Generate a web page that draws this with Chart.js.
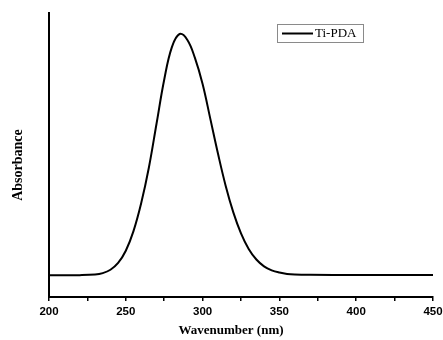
<!DOCTYPE html>
<html>
<head>
<meta charset="utf-8">
<script src="https://cdn.jsdelivr.net/npm/chart.js@4/dist/chart.umd.min.js"></script>
<style>
  body { margin: 0; background: #fff; }
  canvas { display: block; }
</style>
</head>
<body>
<canvas id="grafica" width="443" height="340"></canvas>
<script>
const wavelengths = [200, 220, 230, 235, 240, 245, 250, 255, 260, 265, 270, 275, 280, 285, 290, 295, 300, 305, 310, 315, 320, 325, 330, 335, 340, 345, 350, 355, 360, 370, 400, 450];
const absorbance = [0.077, 0.077, 0.079, 0.084, 0.096, 0.120, 0.163, 0.232, 0.330, 0.455, 0.610, 0.765, 0.880, 0.926, 0.906, 0.842, 0.750, 0.628, 0.505, 0.392, 0.298, 0.224, 0.169, 0.132, 0.108, 0.094, 0.086, 0.081, 0.079, 0.078, 0.0775, 0.0775];
const xTicks = [200, 250, 300, 350, 400, 450];
const serieNombre = "Ti-PDA";

const puntos = wavelengths.map((x, i) => ({ x: x, y: absorbance[i] }));

const textos = {
    id: "textos",
    afterDraw(chart) {
        const { ctx, chartArea } = chart;
        ctx.save();
        ctx.fillStyle = "#000";

        // titulo eje y
        ctx.font = "bold 14px 'Liberation Serif'";
        ctx.textAlign = "center";
        ctx.textBaseline = "middle";
        ctx.translate(18, 165);
        ctx.rotate(-Math.PI / 2);
        ctx.fillText("Absorbance", 0, 0);
        ctx.setTransform(1, 0, 0, 1, 0, 0);

        // titulo eje x
        ctx.font = "bold 13px 'Liberation Serif'";
        ctx.fillText("Wavenumber (nm)", 231, 331);

        // leyenda
        const lx = chartArea.right - 156;
        const ly = chartArea.top + 11;
        ctx.strokeStyle = "#8a8a8a";
        ctx.lineWidth = 1;
        ctx.strokeRect(lx + 0.5, ly + 0.5, 86, 18);
        ctx.strokeStyle = "#000";
        ctx.lineWidth = 2;
        ctx.beginPath();
        ctx.moveTo(lx + 5, ly + 9.5);
        ctx.lineTo(lx + 36, ly + 9.5);
        ctx.stroke();
        ctx.font = "13px 'Liberation Serif'";
        ctx.textAlign = "left";
        ctx.fillText(serieNombre, lx + 38, ly + 10);
        ctx.restore();
    }
};

new Chart(document.getElementById("grafica"), {
    type: "line",
    data: {
        datasets: [
            {
                label: serieNombre,
                data: puntos,
                borderColor: "#000",
                borderWidth: 2,
                pointRadius: 0,
                fill: false,
                tension: 0.4
            }
        ]
    },
    options: {
        responsive: false,
        animation: false,
        layout: { padding: { top: 13, right: 10, left: 0, bottom: 0 } },
        plugins: {
            legend: { display: false },
            tooltip: { enabled: false }
        },
        scales: {
            x: {
                type: "linear",
                min: 200,
                max: 450,
                afterFit(scale) {
                    scale.height = 43;
                    scale.paddingLeft = 0;
                    scale.paddingRight = 0;
                },
                ticks: {
                    stepSize: 25,
                    autoSkip: false,
                    maxRotation: 0,
                    padding: 4,
                    color: "#000",
                    font: { family: "'Liberation Sans'", size: 11.5, weight: "bold" },
                    callback: (v) => (xTicks.includes(v) ? String(v) : "")
                },
                grid: {
                    drawOnChartArea: false,
                    drawTicks: true,
                    tickLength: 4,
                    color: "#000",
                    lineWidth: 1.5
                },
                border: { color: "#000", width: 2 }
            },
            y: {
                min: 0,
                max: 1,
                afterFit(scale) {
                    scale.width = 49;
                },
                ticks: { display: false },
                grid: { display: false },
                border: { color: "#000", width: 2 }
            }
        }
    },
    plugins: [textos]
});
</script>
</body>
</html>
